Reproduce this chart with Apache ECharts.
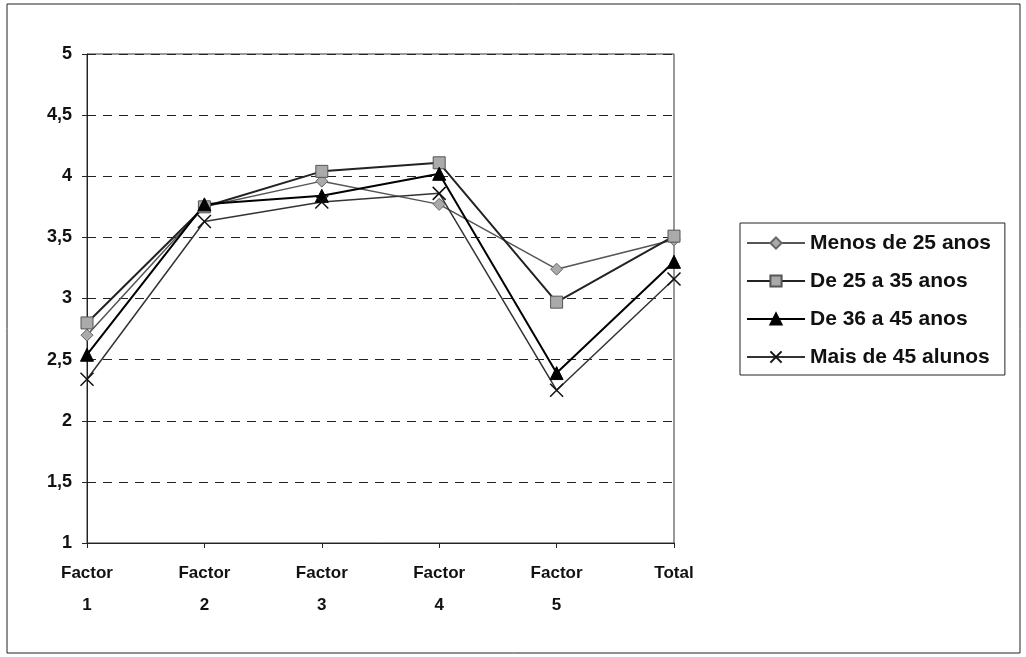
<!DOCTYPE html>
<html>
<head>
<meta charset="utf-8">
<script src="https://cdn.jsdelivr.net/npm/echarts@6/dist/echarts.min.js"></script>
<style>
  html, body { margin: 0; padding: 0; background: #fff; }
  #main { width: 1026px; height: 657px; }
</style>
</head>
<body>
<div id="main"></div>
<script>
// categorias do eixo x
var categories = ['Factor\n1', 'Factor\n2', 'Factor\n3', 'Factor\n4', 'Factor\n5', 'Total'];
// series
var seriesNames = ['Menos de 25 anos', 'De 25 a 35 anos', 'De 36 a 45 anos', 'Mais de 45 alunos'];
var menos25 = [2.70, 3.75, 3.96, 3.77, 3.24, 3.48];
var de25a35 = [2.80, 3.75, 4.04, 4.11, 2.97, 3.51];
var de36a45 = [2.54, 3.77, 3.84, 4.02, 2.39, 3.30];
var mais45 = [2.34, 3.63, 3.79, 3.86, 2.25, 3.16];

var font = '"Liberation Sans", Arial, sans-serif';
var myChart = echarts.init(document.getElementById('main'));

function serie(name, data, symbol, size, lineColor, lineWidth, itemStyle) {
  return {
    name: name,
    type: 'line',
    data: data,
    symbol: symbol,
    symbolSize: size,
    showAllSymbol: true,
    lineStyle: { color: lineColor, width: lineWidth },
    itemStyle: itemStyle,
    emphasis: { disabled: true },
    z: 3
  };
}

myChart.setOption({
  backgroundColor: '#fff',
  animation: false,
  textStyle: { fontFamily: font },
  graphic: [{
    type: 'rect',
    shape: { x: 7, y: 4, width: 1013, height: 649 },
    style: { fill: 'none', stroke: '#222', lineWidth: 1 },
    silent: true
  }],
  grid: { left: 87, right: 352, top: 54, bottom: 114, show: true, borderColor: '#333', borderWidth: 1 },
  legend: {
    orient: 'vertical',
    left: 740,
    top: 223,
    width: 265,
    padding: [8, 14, 6, 6],
    itemGap: 14,
    itemWidth: 58,
    itemHeight: 14,
    borderColor: '#222',
    borderWidth: 1,
    textStyle: { fontFamily: font, fontSize: 21, fontWeight: 'bold', color: '#111', lineHeight: 24, padding: [0, 0, 0, 0] },
    data: seriesNames
  },
  xAxis: {
    type: 'category',
    data: categories,
    boundaryGap: false,
    axisLine: { lineStyle: { color: '#222', width: 1 } },
    axisTick: { show: true, length: 5, lineStyle: { color: '#222' } },
    axisLabel: { fontFamily: font, fontSize: 17, fontWeight: 'bold', color: '#111', lineHeight: 32, margin: 14 },
    splitLine: { show: false }
  },
  yAxis: {
    type: 'value',
    min: 1,
    max: 5,
    interval: 0.5,
    axisLine: { show: true, lineStyle: { color: '#222', width: 1 } },
    axisTick: { show: true, length: 5, lineStyle: { color: '#222' } },
    axisLabel: {
      fontFamily: font, fontSize: 18, fontWeight: 'bold', color: '#111', margin: 15,
      formatter: function (v) { return String(v).replace('.', ','); }
    },
    splitLine: { show: true, lineStyle: { color: '#222', type: [9, 7], width: 1 } }
  },
  series: [
    serie(seriesNames[0], menos25, 'diamond', 12, '#555', 1.5,
      { color: '#aaa', borderColor: '#666', borderWidth: 1 }),
    serie(seriesNames[1], de25a35, 'rect', 12, '#222', 2,
      { color: '#aaa', borderColor: '#555', borderWidth: 1 }),
    serie(seriesNames[2], de36a45, 'triangle', 13, '#000', 2,
      { color: '#000', borderColor: '#000', borderWidth: 1 }),
    serie(seriesNames[3], mais45, 'path://M0,0L10,10M10,0L0,10', 13, '#333', 1.5,
      { color: 'none', borderColor: '#111', borderWidth: 1.5 })
  ]
});
</script>
</body>
</html>
